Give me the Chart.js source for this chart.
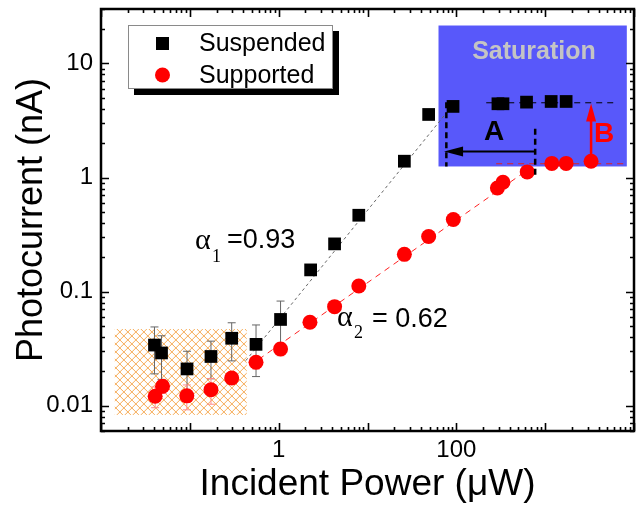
<!DOCTYPE html>
<html>
<head>
<meta charset="utf-8">
<script src="https://cdn.jsdelivr.net/npm/chart.js@4.4.1/dist/chart.umd.min.js"></script>
<style>
  body { margin: 0; background: #fff; }
  #chart { display: block; }
</style>
</head>
<body>
<canvas id="chart" width="644" height="509"></canvas>
<script>
// incident power (uW) vs photocurrent (nA)
const suspendedPower   = [0.040, 0.048, 0.093, 0.173, 0.296, 0.556, 1.05, 2.29, 4.26, 7.98, 26.0, 48.8, 91.8, 294, 335, 617, 1168, 1722];
const suspendedCurrent = [0.034, 0.029, 0.021, 0.027, 0.039, 0.0345, 0.057, 0.155, 0.262, 0.467, 1.39, 3.57, 4.20, 4.43, 4.43, 4.58, 4.64, 4.64];
const suspendedErr     = [0.015, 0.012, 0.009, 0.0098, 0.0143, 0.0165, 0.0256, 0, 0, 0, 0, 0, 0, 0, 0, 0, 0, 0];

const supportedPower   = [0.0407, 0.0493, 0.0925, 0.173, 0.296, 0.556, 1.05, 2.25, 4.26, 7.98, 26.0, 48.8, 92.5, 290, 335, 628, 1189, 1722, 3288];
const supportedCurrent = [0.0121, 0.0148, 0.0122, 0.0138, 0.0175, 0.024, 0.0314, 0.0538, 0.0738, 0.112, 0.212, 0.304, 0.428, 0.81, 0.91, 1.12, 1.33, 1.33, 1.39];
const supportedErr     = [0.0025, 0.002, 0.003, 0.0035, 0.002, 0.003, 0.004, 0, 0, 0, 0, 0, 0, 0, 0, 0, 0, 0, 0];

// power-law fits and saturation levels (end points)
const suspendedFitPower = [0.426, 81.3];
const suspendedFitCurrent = [0.0248, 3.87];
const supportedFitPower = [0.472, 560];
const supportedFitCurrent = [0.0224, 1.09];
const suspendedSatPower = [217, 6610];
const suspendedSatCurrent = [4.52, 4.52];
const supportedSatPower = [281, 8130];
const supportedSatCurrent = [1.32, 1.32];

const xTickLabels = [1, 100];
const yTickLabels = [0.01, 0.1, 1, 10];

// shaded regions and markers (data units)
const noiseBox = { x0: 0.0143, x1: 0.437, y0: 0.0083, y1: 0.047 };
const satBox = { x0: 63, x1: 8300, y0: 1.25, y1: 21.5 };
const arrowA = { xLeft: 77.2, xRight: 772, y: 1.69, leftTop: 4.57, leftBot: 1.25, rightTop: 2.67, rightBot: 1.0, tip: 72.8 };
const arrowB = { x: 3288, y0: 1.39, y1: 4.46 };

const SANS = '"Liberation Sans", Arial, sans-serif';
const SERIF = '"Liberation Serif", "Times New Roman", serif';

const toPts = (xs, ys) => xs.map((x, i) => ({ x: x, y: ys[i] }));

const figurePlugin = {
  id: 'figure',
  beforeDatasetsDraw(chart) {
    const ctx = chart.ctx;
    const sx = chart.scales.x, sy = chart.scales.y;

    // orange cross-hatch (noise floor)
    let l = sx.getPixelForValue(noiseBox.x0), r = sx.getPixelForValue(noiseBox.x1);
    let t = sy.getPixelForValue(noiseBox.y1), b = sy.getPixelForValue(noiseBox.y0);
    const h = b - t;
    ctx.save();
    ctx.beginPath();
    ctx.rect(l, t, r - l, h);
    ctx.clip();
    ctx.strokeStyle = 'rgb(246,170,85)';
    ctx.lineWidth = 1;
    ctx.beginPath();
    for (let k = l - h; k < r + h; k += 8) {
      ctx.moveTo(k, b); ctx.lineTo(k + h, t);
      ctx.moveTo(k, t); ctx.lineTo(k + h, b);
    }
    ctx.stroke();
    ctx.restore();

    // saturation box
    l = sx.getPixelForValue(satBox.x0); r = sx.getPixelForValue(satBox.x1);
    t = sy.getPixelForValue(satBox.y1); b = sy.getPixelForValue(satBox.y0);
    ctx.save();
    ctx.fillStyle = 'rgb(88,88,250)';
    ctx.fillRect(l, t, r - l, b - t);
    ctx.fillStyle = '#c4c4c4';
    ctx.font = 'bold 25px ' + SANS;
    ctx.textAlign = 'center';
    ctx.textBaseline = 'middle';
    ctx.fillText('Saturation', 534, 52);
    ctx.restore();

    // error bars
    const bars = (xs, ys, es, color, cap) => {
      ctx.save();
      ctx.strokeStyle = color;
      ctx.lineWidth = 1;
      ctx.beginPath();
      xs.forEach((x, i) => {
        if (!es[i]) return;
        const px = sx.getPixelForValue(x);
        const top = sy.getPixelForValue(ys[i] + es[i]);
        const bot = sy.getPixelForValue(ys[i] - es[i]);
        ctx.moveTo(px, top); ctx.lineTo(px, bot);
        ctx.moveTo(px - cap, top); ctx.lineTo(px + cap, top);
        ctx.moveTo(px - cap, bot); ctx.lineTo(px + cap, bot);
      });
      ctx.stroke();
      ctx.restore();
    };
    bars(suspendedPower, suspendedCurrent, suspendedErr, '#666', 4);
    bars(supportedPower, supportedCurrent, supportedErr, '#ff8c8c', 4);
  },
  afterDatasetsDraw(chart) {
    const ctx = chart.ctx;
    const sx = chart.scales.x, sy = chart.scales.y;
    ctx.save();

    // A: dashed limits and left arrow
    const xl = sx.getPixelForValue(arrowA.xLeft), xr = sx.getPixelForValue(arrowA.xRight);
    ctx.strokeStyle = '#000';
    ctx.lineWidth = 2.5;
    ctx.setLineDash([6, 4]);
    ctx.beginPath();
    ctx.moveTo(xl, sy.getPixelForValue(arrowA.leftTop)); ctx.lineTo(xl, sy.getPixelForValue(arrowA.leftBot));
    ctx.moveTo(xr, sy.getPixelForValue(arrowA.rightTop)); ctx.lineTo(xr, sy.getPixelForValue(arrowA.rightBot));
    ctx.stroke();
    ctx.setLineDash([]);
    const ay = sy.getPixelForValue(arrowA.y), tip = sx.getPixelForValue(arrowA.tip);
    ctx.lineWidth = 2;
    ctx.beginPath();
    ctx.moveTo(xr, ay); ctx.lineTo(tip + 16, ay);
    ctx.stroke();
    ctx.fillStyle = '#000';
    ctx.beginPath();
    ctx.moveTo(tip, ay); ctx.lineTo(tip + 19, ay - 5); ctx.lineTo(tip + 19, ay + 5); ctx.closePath();
    ctx.fill();

    // B: red up arrow
    const bx = sx.getPixelForValue(arrowB.x);
    const by0 = sy.getPixelForValue(arrowB.y0), by1 = sy.getPixelForValue(arrowB.y1);
    ctx.strokeStyle = '#ff0000';
    ctx.fillStyle = '#ff0000';
    ctx.lineWidth = 2.5;
    ctx.beginPath();
    ctx.moveTo(bx, by0); ctx.lineTo(bx, by1 + 14);
    ctx.stroke();
    ctx.beginPath();
    ctx.moveTo(bx, by1); ctx.lineTo(bx - 5, by1 + 18); ctx.lineTo(bx + 5, by1 + 18); ctx.closePath();
    ctx.fill();

    ctx.font = 'bold 28px ' + SANS;
    ctx.textAlign = 'center';
    ctx.textBaseline = 'middle';
    ctx.fillStyle = '#000';
    ctx.fillText('A', 494, 132);
    ctx.fillStyle = '#ff0000';
    ctx.fillText('B', 604, 134);

    // slope labels
    ctx.fillStyle = '#000';
    ctx.textAlign = 'left';
    ctx.textBaseline = 'alphabetic';
    ctx.font = '30px ' + SERIF;
    ctx.fillText('\u03b1', 195, 249);
    ctx.fillText('\u03b1', 337, 326);
    ctx.font = '18px ' + SERIF;
    ctx.fillText('1', 212, 262);
    ctx.fillText('2', 354, 338);
    ctx.font = '27px ' + SANS;
    ctx.fillText('=0.93', 227, 248);
    ctx.fillText('= 0.62', 372, 327);
    ctx.restore();
  },
  afterDraw(chart) {
    const ctx = chart.ctx;
    const { left, right, top, bottom } = chart.chartArea;
    const sx = chart.scales.x, sy = chart.scales.y;
    ctx.save();
    ctx.strokeStyle = '#000';

    // inward ticks on all four sides
    ctx.lineWidth = 1.6;
    ctx.beginPath();
    for (let d = -2; d <= 4; d++) {
      for (let m = 1; m <= 9; m++) {
        const v = m * Math.pow(10, d);
        if (v < sx.min || v > sx.max) continue;
        const p = Math.round(sx.getPixelForValue(v)) + 0.5;
        const len = m === 1 ? 8 : 4;
        ctx.moveTo(p, bottom); ctx.lineTo(p, bottom - len);
        ctx.moveTo(p, top); ctx.lineTo(p, top + len);
      }
    }
    for (let d = -3; d <= 1; d++) {
      for (let m = 1; m <= 9; m++) {
        const v = m * Math.pow(10, d);
        if (v < sy.min || v > sy.max) continue;
        const p = Math.round(sy.getPixelForValue(v)) + 0.5;
        const len = m === 1 ? 8 : 4;
        ctx.moveTo(left, p); ctx.lineTo(left + len, p);
        ctx.moveTo(right, p); ctx.lineTo(right - len, p);
      }
    }
    ctx.stroke();

    ctx.lineWidth = 2.5;
    ctx.strokeRect(left, top, right - left, bottom - top);

    // legend with drop shadow
    ctx.fillStyle = '#000';
    ctx.fillRect(134, 31, 205, 64);
    ctx.fillStyle = '#fff';
    ctx.fillRect(128, 25, 205, 64);
    ctx.lineWidth = 1;
    ctx.strokeStyle = '#8a8a8a';
    ctx.strokeRect(128.5, 25.5, 204, 63);
    ctx.fillStyle = '#000';
    ctx.fillRect(156, 37, 13, 13);
    ctx.fillStyle = '#ff0000';
    ctx.beginPath();
    ctx.arc(162.5, 75, 7.5, 0, Math.PI * 2);
    ctx.fill();
    ctx.fillStyle = '#000';
    ctx.font = '25px ' + SANS;
    ctx.textBaseline = 'middle';
    ctx.fillText(chart.data.datasets[0].label, 199, 44);
    ctx.fillText(chart.data.datasets[1].label, 199, 76);
    ctx.restore();
  }
};

Chart.defaults.color = '#000';
Chart.defaults.font.family = SANS;

new Chart(document.getElementById('chart'), {
  type: 'scatter',
  data: {
    datasets: [
      {
        label: 'Suspended',
        data: toPts(suspendedPower, suspendedCurrent),
        pointStyle: 'rect',
        pointRadius: 9,
        backgroundColor: '#000',
        borderWidth: 0
      },
      {
        label: 'Supported',
        data: toPts(supportedPower, supportedCurrent),
        pointStyle: 'circle',
        pointRadius: 7.5,
        backgroundColor: '#ff0000',
        borderWidth: 0
      },
      {
        data: toPts(suspendedFitPower, suspendedFitCurrent),
        showLine: true, pointRadius: 0,
        borderColor: '#666', borderWidth: 1, borderDash: [3, 3]
      },
      {
        data: toPts(supportedFitPower, supportedFitCurrent),
        showLine: true, pointRadius: 0,
        borderColor: '#ff2020', borderWidth: 1, borderDash: [6, 5]
      },
      {
        data: toPts(suspendedSatPower, suspendedSatCurrent),
        showLine: true, pointRadius: 0,
        borderColor: '#000', borderWidth: 1, borderDash: [6, 5]
      },
      {
        data: toPts(supportedSatPower, supportedSatCurrent),
        showLine: true, pointRadius: 0,
        borderColor: '#e02020', borderWidth: 1, borderDash: [6, 5]
      }
    ]
  },
  options: {
    responsive: false,
    animation: false,
    layout: { padding: { left: 0, right: 10, top: 8, bottom: 0 } },
    plugins: { legend: { display: false }, tooltip: { enabled: false } },
    scales: {
      x: {
        type: 'logarithmic',
        min: 0.01,
        max: 10000,
        grid: { display: false, drawTicks: false },
        border: { display: false },
        afterBuildTicks: (scale) => { scale.ticks = xTickLabels.map(v => ({ value: v })); },
        afterFit: (scale) => { scale.height = 78; scale.paddingLeft = 0; scale.paddingRight = 0; },
        ticks: { autoSkip: false, maxRotation: 0, padding: 5, font: { size: 24 }, callback: (v) => String(v) },
        title: { display: true, text: 'Incident Power (\u03bcW)', font: { size: 37 }, padding: { top: 0, bottom: 2 } }
      },
      y: {
        type: 'logarithmic',
        min: 0.006,
        max: 30,
        grid: { display: false, drawTicks: false },
        border: { display: false },
        afterBuildTicks: (scale) => { scale.ticks = yTickLabels.map(v => ({ value: v })); },
        afterFit: (scale) => { scale.width = 101; scale.paddingTop = 0; scale.paddingBottom = 0; },
        ticks: { autoSkip: false, padding: 8, font: { size: 24 }, callback: (v) => String(v) },
        title: { display: true, text: 'Photocurrent (nA)', font: { size: 36 }, padding: { top: 10, bottom: 0 } }
      }
    }
  },
  plugins: [figurePlugin]
});
</script>
</body>
</html>
